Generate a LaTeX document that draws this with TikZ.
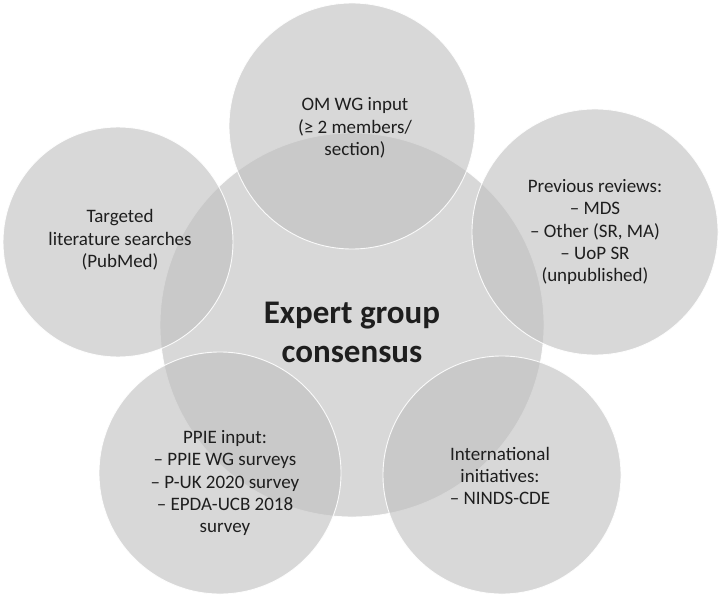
\documentclass[tikz,border=0pt]{standalone}
\usepackage{fontspec}
\setmainfont{Carlito}
\definecolor{bubblegray}{HTML}{BFBFBF}
\definecolor{txt}{HTML}{1E1E1E}
\begin{document}
\begin{tikzpicture}[x=1pt,y=-1pt,
  bubble/.style={circle, fill=bubblegray, fill opacity=0.6, draw=white, draw opacity=0.9, line width=0.9pt, minimum size=#1, inner sep=0pt},
  lbl/.style={align=center, text=txt, font=\fontsize{19}{22.3}\selectfont},
  bigl/.style={align=center, text=txt, font=\fontsize{33}{39}\selectfont\bfseries}]
\useasboundingbox (0,0) rectangle (725,604);
\fill[white] (0,0) rectangle (725,604);
\node[bubble=384pt] (cen) at (352,325) {};
\node[bubble=246pt] (top) at (352,126) {};
\node[bubble=230pt] (lft) at (118,242) {};
\node[bubble=246pt] (rgt) at (595,232) {};
\node[bubble=242pt] (bl) at (220,473) {};
\node[bubble=238pt] (br) at (502,475) {};
\node[bigl] (cenT) at (cen.center) [yshift=-7pt] {Expert group\\consensus};
\node[lbl] (topT) at (top.center) [xshift=3pt,yshift=-2pt] {OM WG input\\(≥ 2 members/\\section)};
\node[lbl] (lftT) at (lft.center) [xshift=2pt,yshift=2pt] {Targeted\\literature searches\\(PubMed)};
\node[lbl] (rgtT) at (rgt.center) {Previous reviews:\\– MDS\\– Other (SR, MA)\\– UoP SR\\(unpublished)};
\node[lbl] (blT) at (bl.center) [xshift=5pt,yshift=-10pt] {PPIE input:\\– PPIE WG surveys\\– P-UK 2020 survey\\– EPDA-UCB 2018\\survey};
\node[lbl] (brT) at (br.center) [xshift=-2pt,yshift=-1pt] {International\\initiatives:\\– NINDS-CDE};
\end{tikzpicture}
\end{document}
